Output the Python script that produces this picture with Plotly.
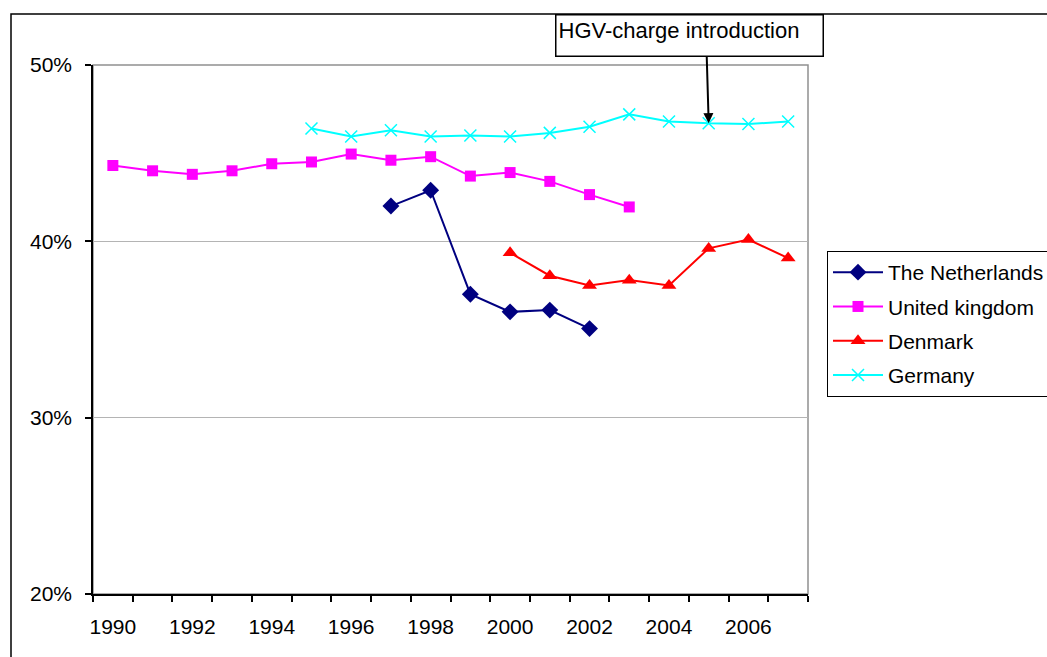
import plotly.graph_objects as go

years_nl = [1997, 1998, 1999, 2000, 2001, 2002]
nl = [42.0, 42.9, 37.0, 36.0, 36.1, 35.05]

years_uk = list(range(1990, 2004))
uk = [44.3, 44.0, 43.8, 44.0, 44.4, 44.5, 44.95, 44.6, 44.8, 43.7, 43.9, 43.4, 42.65, 41.95]

years_dk = list(range(2000, 2008))
dk = [39.35, 38.05, 37.5, 37.8, 37.5, 39.6, 40.1, 39.05]

years_de = list(range(1995, 2008))
de = [46.4, 45.95, 46.3, 45.95, 46.0, 45.95, 46.15, 46.5, 47.2, 46.8, 46.7, 46.65, 46.8]

tick_years = list(range(1990, 2007, 2))
tick_labels = [str(y) for y in tick_years]
boundaries = [y - 0.5 for y in range(1990, 2009)]
y_ticks = [20, 30, 40, 50]
y_labels = ["20%", "30%", "40%", "50%"]

FONT = "Arial, Liberation Sans, sans-serif"

fig = go.Figure()
fig.add_trace(go.Scatter(x=years_nl, y=nl, name="The Netherlands", mode="lines+markers",
                         legendgroup="a",
                         line=dict(color="#000080", width=2),
                         marker=dict(symbol="diamond", size=13, color="#000080")))
fig.add_trace(go.Scatter(x=years_uk, y=uk, name="United kingdom", mode="lines+markers",
                         legendgroup="b",
                         line=dict(color="#FF00FF", width=2),
                         marker=dict(symbol="square", size=11, color="#FF00FF")))
fig.add_trace(go.Scatter(x=years_dk, y=dk, name="Denmark", mode="lines+markers",
                         legendgroup="c",
                         line=dict(color="#FF0000", width=2),
                         marker=dict(symbol="triangle-up", size=13, color="#FF0000")))
fig.add_trace(go.Scatter(x=years_de, y=de, name="Germany", mode="lines+markers",
                         legendgroup="d",
                         line=dict(color="#00FFFF", width=2),
                         marker=dict(symbol="x-thin", size=12, color="#00FFFF",
                                     line=dict(color="#00FFFF", width=1.5))))

W, H = 1047, 657
L, R, T, B = 93, 239, 65, 63
pw, ph = W - L - R, H - T - B

def px2x(px):
    return (px - L) / pw

def px2y(py):
    return (H - B - py) / ph

fig.update_layout(
    width=W, height=H,
    margin=dict(l=L, r=R, t=T, b=B, autoexpand=False),
    paper_bgcolor="white", plot_bgcolor="white",
    font=dict(family=FONT, size=21, color="black"),
    showlegend=True,
    legend=dict(x=px2x(827), y=px2y(251), xanchor="left", yanchor="top",
                bordercolor="black", borderwidth=1, bgcolor="white",
                tracegroupgap=4, itemwidth=50,
                font=dict(size=21, family=FONT)),
    xaxis=dict(range=[1989.5, 2007.5], tickmode="array", tickvals=tick_years,
               ticktext=tick_labels, ticks="", showgrid=False, zeroline=False,
               showline=True, linecolor="black", linewidth=1.5,
               ticklabelstandoff=13, tickfont=dict(size=21),
               minor=dict(tickmode="array", tickvals=boundaries, ticks="outside",
                          ticklen=6, tickcolor="black", tickwidth=1.5, showgrid=False)),
    yaxis=dict(range=[20, 50], tickmode="array", tickvals=y_ticks, ticktext=y_labels,
               ticks="outside", ticklen=6, tickcolor="black", tickfont=dict(size=21),
               tickwidth=1.5, showgrid=True, gridcolor="#b4b4b4", gridwidth=1,
               zeroline=False, showline=True, linecolor="black", linewidth=1.5,
               ticklabelstandoff=9),
    shapes=[
        dict(type="rect", xref="paper", yref="paper", x0=0, x1=1, y0=0, y1=1,
             line=dict(color="#909090", width=1.5), layer="below"),
        dict(type="rect", xref="paper", yref="paper", x0=px2x(11), x1=px2x(1200),
             y0=px2y(800), y1=px2y(14), line=dict(color="black", width=1.5),
             layer="below"),
    ],
    annotations=[
        dict(text="HGV-charge introduction", xref="paper", yref="paper",
             x=px2x(555), y=px2y(14), xanchor="left", yanchor="top",
             showarrow=False, width=262, height=36, align="left", valign="top",
             bordercolor="black", borderwidth=1.5, borderpad=2, bgcolor="white",
             font=dict(size=22, family=FONT, color="black")),
        dict(text="", x=2005, y=46.7, xref="x", yref="y", showarrow=True,
             ax=-2, ay=-68, axref="pixel", ayref="pixel",
             arrowhead=2, arrowsize=1, arrowwidth=2, arrowcolor="black",
             standoff=0),
    ],
)

fig.write_html("out.html", config={"displayModeBar": False},
               post_script="document.body.style.margin='0';document.body.style.padding='0';")
